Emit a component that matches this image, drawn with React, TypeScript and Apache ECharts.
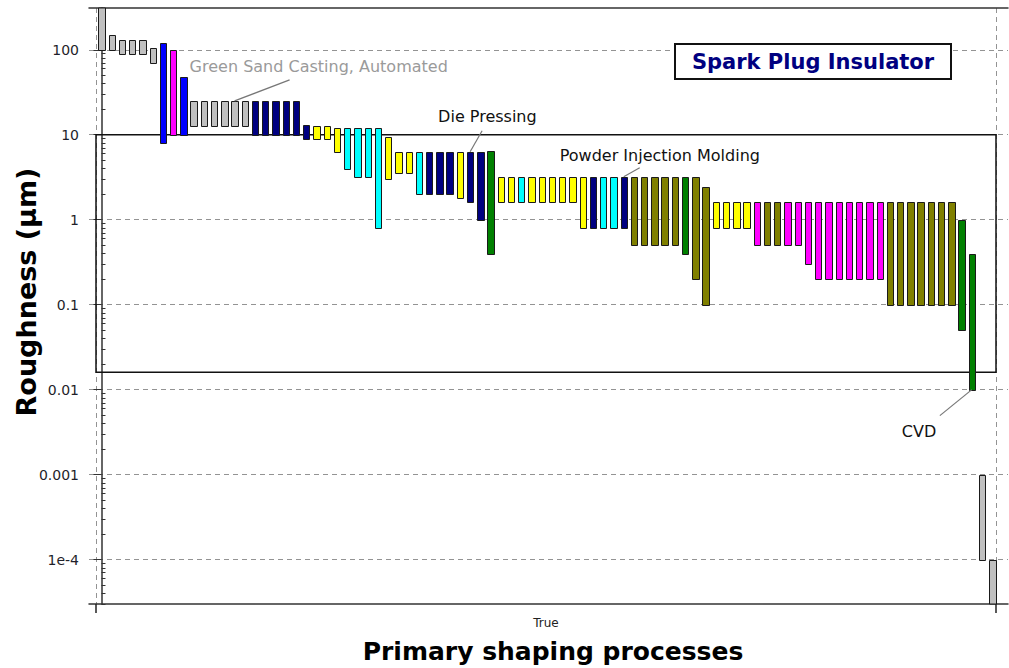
import React, { useEffect, useRef } from "react";
import * as echarts from "echarts";

// ---------- data ----------
const processFamily = [
  "casting", "casting", "casting", "casting", "casting", "casting",
  "deformation", "molding", "deformation",
  "casting", "casting", "casting", "casting", "casting", "casting",
  "powder", "powder", "powder", "powder", "powder", "powder",
  "polymer", "polymer", "polymer",
  "composite", "composite", "composite", "composite",
  "polymer", "polymer", "polymer",
  "composite",
  "powder", "powder", "powder",
  "polymer",
  "powder", "powder",
  "deposition",
  "polymer", "polymer", "composite", "polymer", "polymer", "polymer", "polymer", "polymer",
  "polymer", "powder", "composite", "composite", "powder",
  "glass", "glass", "glass", "glass", "glass",
  "deposition", "glass", "glass",
  "polymer", "polymer", "polymer", "polymer",
  "molding", "glass", "glass", "molding", "molding", "molding",
  "molding", "molding", "molding", "molding", "molding", "molding", "molding",
  "glass", "glass", "glass", "glass", "glass", "glass", "glass",
  "deposition", "deposition",
  "casting", "casting",
];

const roughnessLow = [
  100, 100, 90, 90, 90, 70,
  8, 10, 10,
  12.5, 12.5, 12.5, 12.5, 12.5, 12.5,
  10, 10, 10, 10, 10, 9,
  9, 9, 6.3,
  4, 3.2, 3.2, 0.8,
  3, 3.5, 3.5,
  2,
  2, 2, 2,
  1.8,
  1.6, 1,
  0.4,
  1.6, 1.6, 1.6, 1.6, 1.6, 1.6, 1.6, 1.6,
  0.8, 0.8, 0.8, 0.8, 0.8,
  0.5, 0.5, 0.5, 0.5, 0.5,
  0.4, 0.2, 0.1,
  0.8, 0.8, 0.8, 0.8,
  0.5, 0.5, 0.5, 0.5, 0.5, 0.3,
  0.2, 0.2, 0.2, 0.2, 0.2, 0.2, 0.2,
  0.1, 0.1, 0.1, 0.1, 0.1, 0.1, 0.1,
  0.05, 0.01,
  0.0001, 0.00003,
];

const roughnessHigh = [
  1000, 150, 130, 130, 130, 105,
  120, 100, 48,
  25, 25, 25, 25, 25, 25,
  25, 25, 25, 25, 25, 13,
  12.5, 12.5, 12,
  12, 12, 12, 12,
  9.5, 6.3, 6.3,
  6.3,
  6.3, 6.3, 6.3,
  6.3,
  6.3, 6.3,
  6.5,
  3.2, 3.2, 3.2, 3.2, 3.2, 3.2, 3.2, 3.2,
  3.2, 3.2, 3.2, 3.2, 3.2,
  3.2, 3.2, 3.2, 3.2, 3.2,
  3.2, 3.2, 2.4,
  1.6, 1.6, 1.6, 1.6,
  1.6, 1.6, 1.6, 1.6, 1.6, 1.6,
  1.6, 1.6, 1.6, 1.6, 1.6, 1.6, 1.6,
  1.6, 1.6, 1.6, 1.6, 1.6, 1.6, 1.6,
  1, 0.4,
  0.001, 0.0001,
];

const yTickValues = [0.0001, 0.001, 0.01, 0.1, 1, 10, 100];
const yTickLabels = ["1e-4", "0.001", "0.01", "0.1", "1", "10", "100"];
const yRange = [3e-5, 310];
const xCategories = ["True"];
const limitRange = [0.016, 10];
const titleText = "Spark Plug Insulator";
const xAxisTitle = "Primary shaping processes";
const yAxisTitle = "Roughness (µm)";
const annotationTexts = ["Green Sand Casting, Automated", "Die Pressing", "Powder Injection Molding", "CVD"];
const annotationBars = [13, 36, 51, 85];
const annotationValues = [25, 6.3, 3.2, 0.01];

// ---------- styles ----------
const familyColors: Record<string, string> = {
  casting: "#C0C0C0",
  deformation: "#0000FF",
  molding: "#FF00FF",
  powder: "#000080",
  polymer: "#FFFF00",
  composite: "#00FFFF",
  glass: "#808000",
  deposition: "#008000",
};

const FONT = "DejaVu Sans";

function minorTicks(): number[] {
  const out: number[] = [];
  for (let e = -5; e <= 2; e++) {
    for (let m = 2; m <= 9; m++) {
      const v = m * Math.pow(10, e);
      if (v > yRange[0] && v < yRange[1]) out.push(v);
    }
  }
  return out;
}

function fmtTick(value: number): string {
  const k = yTickValues.findIndex((v) => Math.abs(Math.log10(v) - Math.log10(value)) < 1e-6);
  return k >= 0 ? yTickLabels[k] : "";
}

export default function App() {
  const ref = useRef<HTMLDivElement>(null);

  useEffect(() => {
    if (!ref.current) return;
    const chart = echarts.init(ref.current, undefined, { renderer: "svg" });
    const halfW = 0.31;
    const dashed = { color: "#939393", width: 1, type: [5, 4] as any };

    const option: any = {
      animation: false,
      backgroundColor: "#ffffff",
      grid: [
        { left: 89, right: 1, top: 8, bottom: 64, outerBoundsMode: "none" },
        { left: 96, right: 13, top: 8, bottom: 64, outerBoundsMode: "none" },
      ],
      xAxis: [
        {
          type: "value", gridIndex: 0, min: -1.22, max: 88.53, position: "bottom",
          axisLine: { show: true, lineStyle: { color: "#333", width: 1.5 } },
          axisTick: { show: false }, axisLabel: { show: false }, splitLine: { show: false },
        },
        {
          type: "value", gridIndex: 0, min: -1.22, max: 88.53, position: "top",
          axisLine: { show: true, lineStyle: { color: "#333", width: 1.5 } },
          axisTick: { show: false }, axisLabel: { show: false }, splitLine: { show: false },
        },
        {
          type: "category", gridIndex: 1, data: xCategories, position: "bottom",
          axisLine: { show: false },
          axisTick: { show: true, length: 9, lineStyle: { color: "#222", width: 1.5 } },
          axisLabel: { show: true, margin: 13, fontFamily: FONT, fontSize: 12, color: "#222" },
          splitLine: { show: true, lineStyle: dashed },
        },
      ],
      yAxis: [
        {
          type: "log", gridIndex: 0, min: yRange[0], max: yRange[1], logBase: 10,
          axisLine: { show: true, lineStyle: { color: "#333", width: 1.5 } },
          axisTick: { show: true, length: 8, customValues: yTickValues, lineStyle: { color: "#333", width: 1 } },
          axisLabel: { show: true, customValues: yTickValues, formatter: fmtTick, margin: 10, fontFamily: FONT, fontSize: 14, color: "#1f1f2a" },
          splitLine: { show: true, lineStyle: dashed },
        },
        {
          type: "log", gridIndex: 0, min: yRange[0], max: yRange[1], logBase: 10,
          axisLine: { show: false },
          axisTick: { show: true, length: 4, customValues: minorTicks(), lineStyle: { color: "#333", width: 1 } },
          axisLabel: { show: false }, splitLine: { show: false },
        },
        {
          type: "log", gridIndex: 1, min: yRange[0], max: yRange[1], logBase: 10, show: false,
        },
      ],
      series: [
        {
          type: "custom",
          xAxisIndex: 0,
          yAxisIndex: 0,
          z: 3,
          data: roughnessLow.map((lo, i) => [i, lo, roughnessHigh[i]]),
          encode: { x: 0, y: [1, 2] },
          renderItem: (params: any, api: any) => {
            const i = api.value(0);
            const lo = api.value(1);
            const hi = api.value(2);
            const a = api.coord([i - halfW, hi]);
            const b = api.coord([i + halfW, lo]);
            const cs = params.coordSys;
            const x0 = Math.round(a[0]) + 0.5;
            const x1 = Math.round(b[0]) + 0.5;
            let y0 = Math.round(a[1]) + 0.5;
            let y1 = Math.round(b[1]) + 0.5;
            y0 = Math.max(y0, cs.y);
            y1 = Math.min(y1, cs.y + cs.height);
            return {
              type: "rect",
              shape: { x: x0, y: y0, width: x1 - x0, height: y1 - y0 },
              style: { fill: familyColors[processFamily[params.dataIndex]], stroke: "#1a1a1a", lineWidth: 1 },
            };
          },
        },
        {
          type: "line",
          xAxisIndex: 2,
          yAxisIndex: 2,
          data: [],
          z: 10,
          silent: true,
          markArea: {
            silent: true,
            itemStyle: { color: "rgba(0,0,0,0)", borderColor: "#111", borderWidth: 1.5 },
            data: [[{ yAxis: limitRange[1] }, { yAxis: limitRange[0] }]],
          },
        },
      ],
    };

    chart.setOption(option);

    const graphics: any[] = [];
    const offsets = [
      { tx: -45, ty: -34, lx: 55, ly: -21, color: "#9a9a9a" },
      { tx: -32, ty: -35, lx: 12, ly: -21, color: "#111" },
      { tx: -64, ty: -21, lx: 16, ly: -9, color: "#111" },
      { tx: -70, ty: 42, lx: -32, ly: 26, color: "#111" },
    ];
    annotationTexts.forEach((t, k) => {
      const p = chart.convertToPixel({ seriesIndex: 0 }, [annotationBars[k], annotationValues[k]]) as number[];
      const o = offsets[k];
      graphics.push({
        type: "line", z: 20, silent: true,
        shape: { x1: p[0], y1: p[1], x2: p[0] + o.lx, y2: p[1] + o.ly },
        style: { stroke: "#777", lineWidth: 1.2 },
      });
      graphics.push({
        type: "text", z: 20, silent: true, x: p[0] + o.tx, y: p[1] + o.ty,
        style: { text: t, fill: o.color, font: `16px "${FONT}"`, align: "left", verticalAlign: "middle" },
      });
    });
    graphics.push({
      type: "group", z: 30, x: 675, y: 44,
      children: [
        { type: "rect", shape: { x: 0, y: 0, width: 276, height: 35 }, style: { fill: "#fff", stroke: "#111", lineWidth: 2 } },
        {
          type: "text", x: 138, y: 18,
          style: { text: titleText, fill: "#000080", font: `bold 21px "${FONT}"`, align: "center", verticalAlign: "middle" },
        },
      ],
    });
    graphics.push({
      type: "text", z: 20, x: 553, y: 651,
      style: { text: xAxisTitle, fill: "#000", font: `bold 25px "${FONT}"`, align: "center", verticalAlign: "middle" },
    });
    graphics.push({
      type: "text", z: 20, x: 26, y: 292, rotation: Math.PI / 2,
      style: { text: yAxisTitle, fill: "#000", font: `bold 27px "${FONT}"`, align: "center", verticalAlign: "middle" },
    });
    chart.setOption({ graphic: graphics });

    return () => chart.dispose();
  }, []);

  return (
    <div
      ref={ref}
      style={{ position: "absolute", left: 0, top: 0, width: 1009, height: 668, background: "#fff" }}
    />
  );
}
